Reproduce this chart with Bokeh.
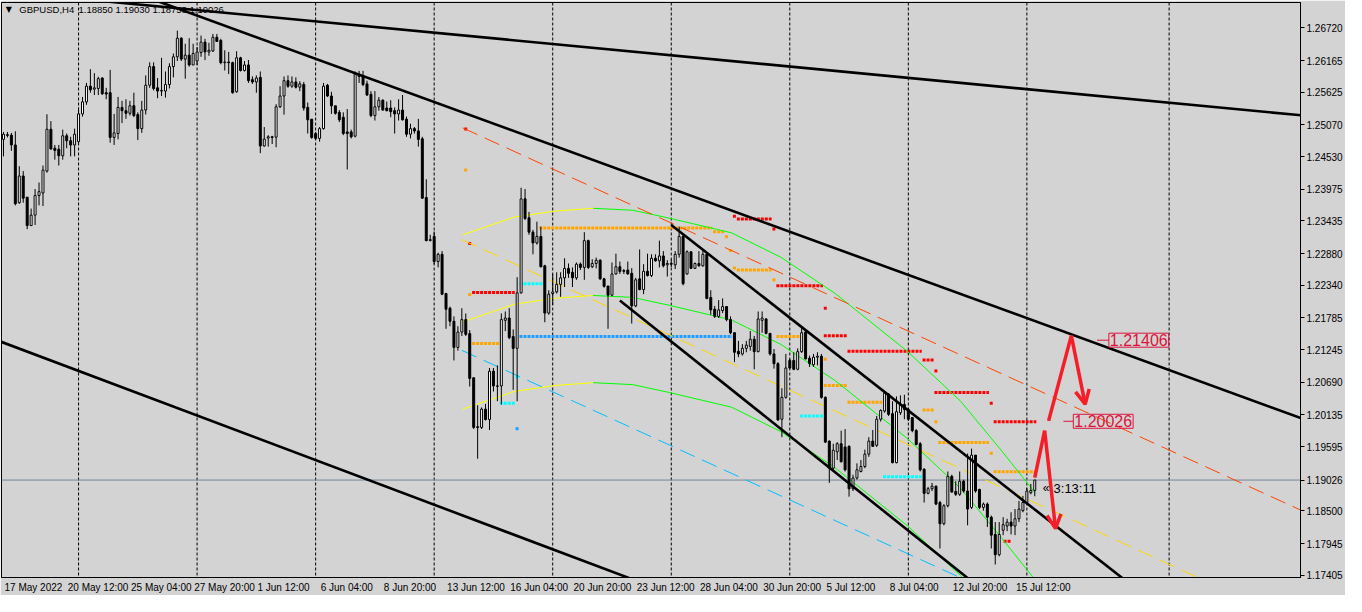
import numpy as np
from bokeh.plotting import figure
from bokeh.models import (Range1d, FixedTicker, PrintfTickFormatter, Span, Label,
                          Arrow, OpenHead, ColumnDataSource)
from bokeh.embed import file_html
from bokeh.resources import INLINE

# ---------------- data (GBPUSD H4, bar index 0 = 17 May 2022 20:00) ----------------
opens = [1.24823, 1.24889, 1.24895, 1.24728, 1.23745, 1.24200, 1.23839, 1.23356, 1.23534, 1.23867,
 1.23911, 1.24284, 1.24995, 1.24672, 1.24656, 1.24545, 1.24884, 1.24800, 1.24728, 1.24784,
 1.25256, 1.25461, 1.25728, 1.25678, 1.25689, 1.25867, 1.25617, 1.25617, 1.24856, 1.24923,
 1.25367, 1.25311, 1.25267, 1.25395, 1.25245, 1.25006, 1.25323, 1.25745, 1.26061, 1.25700,
 1.25645, 1.25645, 1.25756, 1.26061, 1.26228, 1.26545, 1.26189, 1.26256, 1.26089, 1.26156,
 1.26300, 1.26478, 1.26311, 1.26328, 1.26561, 1.26506, 1.26128, 1.26139, 1.26128, 1.25634,
 1.26211, 1.25995, 1.26089, 1.25839, 1.25800, 1.25878, 1.24711, 1.24844, 1.24867, 1.24861,
 1.25378, 1.25561, 1.25822, 1.25728, 1.25800, 1.25711, 1.25756, 1.25367, 1.25167, 1.24922,
 1.24839, 1.25006, 1.25744, 1.25561, 1.25394, 1.25283, 1.25200, 1.24950, 1.24950, 1.24878,
 1.25894, 1.25894, 1.25767, 1.25589, 1.25228, 1.25378, 1.25489, 1.25356, 1.25356, 1.25311,
 1.25256, 1.25322, 1.25167, 1.24911, 1.25006, 1.24967, 1.24833, 1.23833, 1.23100, 1.23172,
 1.22744, 1.22867, 1.22200, 1.21950, 1.21728, 1.21283, 1.21544, 1.21756, 1.21517, 1.20767,
 1.19933, 1.19922, 1.20233, 1.20056, 1.20878, 1.20628, 1.20628, 1.21744, 1.21783, 1.21467,
 1.21267, 1.22211, 1.23811, 1.23489, 1.23244, 1.23061, 1.23172, 1.22672, 1.21867, 1.22200,
 1.22228, 1.22356, 1.22467, 1.22628, 1.22561, 1.22467, 1.22700, 1.22644, 1.23100, 1.22656,
 1.22711, 1.22767, 1.22450, 1.22328, 1.22172, 1.22533, 1.22656, 1.22589, 1.22600, 1.22544,
 1.21989, 1.22450, 1.22267, 1.22578, 1.22506, 1.22800, 1.22756, 1.22839, 1.22689, 1.22711,
 1.22689, 1.22867, 1.23172, 1.22533, 1.22911, 1.22628, 1.22711, 1.22672, 1.22867, 1.22133,
 1.21933, 1.21811, 1.21911, 1.21978, 1.21756, 1.21533, 1.21217, 1.21172, 1.21267, 1.21300,
 1.21422, 1.21211, 1.21744, 1.21767, 1.21522, 1.21172, 1.21006, 1.20061, 1.20433, 1.21061,
 1.21061, 1.20911, 1.21211, 1.21544, 1.21100, 1.20989, 1.21117, 1.21133, 1.20433, 1.19689,
 1.19228, 1.19506, 1.19644, 1.19589, 1.19600, 1.18878, 1.19061, 1.19172, 1.19256, 1.19467,
 1.19689, 1.19617, 1.20061, 1.20200, 1.20489, 1.20156, 1.19322, 1.20172, 1.20311, 1.20228,
 1.20089, 1.19867, 1.19644, 1.19211, 1.18800, 1.18878, 1.18922, 1.18644, 1.18283, 1.18589,
 1.19089, 1.18833, 1.18783, 1.19006, 1.18839, 1.18561, 1.19450, 1.18867, 1.18561, 1.18617,
 1.18394, 1.18100, 1.17756, 1.18172, 1.18244, 1.18311, 1.18244, 1.18367, 1.18506, 1.18644,
 1.18811, 1.18850]

highs = [1.24950, 1.24950, 1.24934, 1.24961, 1.24367, 1.24284, 1.23839, 1.23645, 1.23978, 1.24089,
 1.24378, 1.25250, 1.25134, 1.24728, 1.24728, 1.24989, 1.24923, 1.24867, 1.25006, 1.25367,
 1.25545, 1.25784, 1.26017, 1.25950, 1.25889, 1.25878, 1.25700, 1.26006, 1.25256, 1.25545,
 1.25478, 1.25506, 1.25478, 1.25617, 1.25284, 1.25478, 1.25911, 1.26134, 1.26134, 1.25867,
 1.26211, 1.25978, 1.26117, 1.26284, 1.26673, 1.26561, 1.26450, 1.26545, 1.26450, 1.26395,
 1.26589, 1.26534, 1.26467, 1.26617, 1.26617, 1.26534, 1.26339, 1.26311, 1.26145, 1.26323,
 1.26228, 1.26156, 1.26173, 1.25895, 1.25911, 1.25978, 1.25033, 1.24894, 1.24883, 1.25422,
 1.25728, 1.25894, 1.25911, 1.25894, 1.25878, 1.25811, 1.25800, 1.25450, 1.25167, 1.24950,
 1.25033, 1.25783, 1.25767, 1.25633, 1.25394, 1.25322, 1.25283, 1.25339, 1.24989, 1.25978,
 1.25989, 1.25989, 1.25822, 1.25644, 1.25644, 1.25544, 1.25506, 1.25467, 1.25489, 1.25367,
 1.25506, 1.25578, 1.25211, 1.25089, 1.25033, 1.25172, 1.24867, 1.24144, 1.23200, 1.23256,
 1.22894, 1.22922, 1.22211, 1.21978, 1.21811, 1.21644, 1.21950, 1.21861, 1.21578, 1.20767,
 1.20300, 1.20261, 1.20322, 1.20933, 1.20933, 1.20978, 1.21861, 1.21894, 1.21950, 1.21589,
 1.22478, 1.24000, 1.23978, 1.23589, 1.23283, 1.23422, 1.23339, 1.22689, 1.22256, 1.22533,
 1.22561, 1.22561, 1.22800, 1.22711, 1.22644, 1.22728, 1.22728, 1.23244, 1.23117, 1.22783,
 1.22811, 1.22783, 1.22467, 1.22328, 1.22728, 1.22878, 1.22744, 1.22617, 1.22744, 1.22633,
 1.22467, 1.22950, 1.22700, 1.22878, 1.22867, 1.22867, 1.23100, 1.22922, 1.22767, 1.22780,
 1.22922, 1.23339, 1.23211, 1.22933, 1.22911, 1.22728, 1.22922, 1.22922, 1.22867, 1.22256,
 1.21989, 1.22089, 1.22117, 1.21978, 1.21811, 1.21533, 1.21394, 1.21339, 1.21394, 1.21561,
 1.21478, 1.21894, 1.21894, 1.21783, 1.21522, 1.21256, 1.21033, 1.20589, 1.21172, 1.21089,
 1.21200, 1.21267, 1.21644, 1.21589, 1.21144, 1.21172, 1.21200, 1.21172, 1.20450, 1.19700,
 1.19644, 1.19672, 1.19867, 1.19894, 1.19617, 1.19117, 1.19311, 1.19367, 1.19544, 1.19756,
 1.19878, 1.20117, 1.20228, 1.20544, 1.20506, 1.20367, 1.20450, 1.20467, 1.20478, 1.20256,
 1.20100, 1.19894, 1.19672, 1.19228, 1.18911, 1.18978, 1.18933, 1.18672, 1.18617, 1.19172,
 1.19117, 1.19006, 1.19172, 1.19033, 1.19478, 1.19561, 1.19450, 1.18878, 1.18644, 1.18644,
 1.18422, 1.18311, 1.18311, 1.18394, 1.18367, 1.18478, 1.18533, 1.18672, 1.18756, 1.18894,
 1.18961, 1.19030]

lows = [1.24534, 1.24856, 1.24628, 1.23700, 1.23728, 1.23745, 1.23295, 1.23356, 1.23367, 1.23700,
 1.23689, 1.24256, 1.24645, 1.24478, 1.24378, 1.24478, 1.24672, 1.24534, 1.24534, 1.24756,
 1.25211, 1.25411, 1.25617, 1.25578, 1.25578, 1.25578, 1.25506, 1.24767, 1.24728, 1.24823,
 1.25100, 1.25173, 1.25228, 1.25200, 1.24811, 1.24934, 1.25245, 1.25700, 1.25656, 1.25523,
 1.25561, 1.25534, 1.25689, 1.25878, 1.26156, 1.26156, 1.25856, 1.26061, 1.26089, 1.26089,
 1.26228, 1.26173, 1.26245, 1.26311, 1.26489, 1.26100, 1.25995, 1.25934, 1.25600, 1.25617,
 1.25978, 1.25978, 1.25784, 1.25767, 1.25617, 1.24589, 1.24700, 1.24700, 1.24744, 1.24689,
 1.25356, 1.25244, 1.25700, 1.25700, 1.25689, 1.25644, 1.25311, 1.24922, 1.24833, 1.24811,
 1.24783, 1.24989, 1.25544, 1.25256, 1.25244, 1.25117, 1.24894, 1.24311, 1.24839, 1.24856,
 1.25783, 1.25728, 1.25561, 1.25200, 1.25144, 1.25311, 1.25311, 1.25300, 1.25200, 1.24922,
 1.25144, 1.25144, 1.24867, 1.24839, 1.24922, 1.24700, 1.23811, 1.23089, 1.23089, 1.22700,
 1.22644, 1.22172, 1.21600, 1.21644, 1.21061, 1.21228, 1.21478, 1.21478, 1.20617, 1.19894,
 1.19389, 1.19894, 1.20039, 1.19878, 1.20533, 1.20367, 1.20311, 1.21561, 1.21422, 1.20561,
 1.20367, 1.22200, 1.23450, 1.23200, 1.22867, 1.23033, 1.22644, 1.21711, 1.21839, 1.22006,
 1.22200, 1.22144, 1.22311, 1.22467, 1.22311, 1.22433, 1.22600, 1.22433, 1.22617, 1.22633,
 1.22628, 1.22433, 1.22300, 1.21600, 1.22156, 1.22522, 1.22533, 1.22533, 1.22522, 1.21689,
 1.21967, 1.22256, 1.22189, 1.22489, 1.22478, 1.22744, 1.22644, 1.22644, 1.22489, 1.22650,
 1.22617, 1.22811, 1.22339, 1.22522, 1.22617, 1.22617, 1.22656, 1.22656, 1.22100, 1.21839,
 1.21783, 1.21783, 1.21867, 1.21728, 1.21506, 1.21033, 1.21117, 1.21144, 1.21200, 1.21228,
 1.20911, 1.21200, 1.21533, 1.21506, 1.21144, 1.20922, 1.20033, 1.19756, 1.20411, 1.20922,
 1.20894, 1.20894, 1.21189, 1.21078, 1.20950, 1.20950, 1.20978, 1.20411, 1.19656, 1.18978,
 1.19200, 1.19367, 1.19322, 1.19172, 1.18744, 1.18839, 1.19033, 1.19156, 1.19228, 1.19422,
 1.19589, 1.19589, 1.20022, 1.20172, 1.20117, 1.19311, 1.19311, 1.20133, 1.20061, 1.20033,
 1.19839, 1.19617, 1.19172, 1.18644, 1.18783, 1.18839, 1.18600, 1.17861, 1.18256, 1.18561,
 1.18811, 1.18756, 1.18756, 1.18811, 1.18256, 1.18533, 1.18811, 1.18533, 1.18506, 1.18228,
 1.17861, 1.17589, 1.17728, 1.18089, 1.18156, 1.18100, 1.18089, 1.18311, 1.18478, 1.18617,
 1.18783, 1.18750]

closes = [1.24911, 1.24906, 1.24728, 1.23728, 1.24200, 1.23823, 1.23356, 1.23534, 1.23867, 1.23934,
 1.24300, 1.24995, 1.24661, 1.24634, 1.24545, 1.24884, 1.24800, 1.24728, 1.24911, 1.25256,
 1.25461, 1.25728, 1.25667, 1.25700, 1.25856, 1.25600, 1.25595, 1.24856, 1.24934, 1.25367,
 1.25311, 1.25267, 1.25395, 1.25228, 1.25006, 1.25323, 1.25745, 1.26061, 1.25689, 1.25645,
 1.25656, 1.25756, 1.26061, 1.26228, 1.26545, 1.26189, 1.26256, 1.26089, 1.26284, 1.26311,
 1.26478, 1.26311, 1.26339, 1.26561, 1.26489, 1.26128, 1.26139, 1.26128, 1.25617, 1.26211,
 1.25995, 1.26089, 1.25823, 1.25800, 1.25867, 1.24711, 1.24828, 1.24867, 1.24856, 1.25378,
 1.25561, 1.25822, 1.25728, 1.25800, 1.25711, 1.25767, 1.25356, 1.25156, 1.24856, 1.24839,
 1.25006, 1.25728, 1.25561, 1.25394, 1.25267, 1.25156, 1.24922, 1.24922, 1.24867, 1.25933,
 1.25933, 1.25756, 1.25578, 1.25228, 1.25378, 1.25489, 1.25322, 1.25311, 1.25294, 1.25256,
 1.25322, 1.25156, 1.24911, 1.25006, 1.24967, 1.24822, 1.23822, 1.23100, 1.23117, 1.22744,
 1.22867, 1.22189, 1.21933, 1.21728, 1.21283, 1.21544, 1.21756, 1.21506, 1.20756, 1.19922,
 1.19922, 1.20233, 1.20056, 1.20878, 1.20628, 1.20622, 1.21756, 1.21783, 1.21450, 1.21267,
 1.22211, 1.23811, 1.23478, 1.23244, 1.23061, 1.23172, 1.22656, 1.21867, 1.22189, 1.22228,
 1.22356, 1.22467, 1.22628, 1.22544, 1.22467, 1.22700, 1.22644, 1.23100, 1.22644, 1.22711,
 1.22767, 1.22450, 1.22322, 1.22172, 1.22533, 1.22656, 1.22578, 1.22578, 1.22533, 1.21989,
 1.22433, 1.22267, 1.22578, 1.22506, 1.22800, 1.22756, 1.22839, 1.22672, 1.22711, 1.22700,
 1.22867, 1.23172, 1.22367, 1.22911, 1.22628, 1.22711, 1.22672, 1.22867, 1.22117, 1.21922,
 1.21811, 1.21922, 1.21978, 1.21756, 1.21533, 1.21200, 1.21172, 1.21267, 1.21322, 1.21422,
 1.21211, 1.21767, 1.21783, 1.21522, 1.21172, 1.21006, 1.20050, 1.20433, 1.20933, 1.20933,
 1.20911, 1.21211, 1.21533, 1.21089, 1.21006, 1.21117, 1.21133, 1.20433, 1.19672, 1.19228,
 1.19533, 1.19644, 1.19339, 1.19200, 1.18878, 1.19061, 1.19200, 1.19256, 1.19467, 1.19689,
 1.19600, 1.20061, 1.20211, 1.20506, 1.20144, 1.19322, 1.20189, 1.20311, 1.20228, 1.20061,
 1.19867, 1.19633, 1.19200, 1.18800, 1.18878, 1.18922, 1.18617, 1.18283, 1.18589, 1.19089,
 1.18822, 1.18783, 1.19006, 1.18839, 1.18533, 1.19450, 1.18839, 1.18561, 1.18617, 1.18394,
 1.18089, 1.17756, 1.18100, 1.18267, 1.18311, 1.18244, 1.18367, 1.18533, 1.18644, 1.18839,
 1.18850, 1.19026]

# axis ticks
x_tick_bars = [0, 16, 32, 48, 64, 80, 96, 112, 128, 144, 160, 176, 192, 208, 224, 240, 256]
x_tick_labels = ["17 May 2022", "20 May 12:00", "25 May 04:00", "27 May 20:00", "1 Jun 12:00",
                 "6 Jun 04:00", "8 Jun 20:00", "13 Jun 12:00", "16 Jun 04:00", "20 Jun 20:00",
                 "23 Jun 12:00", "28 Jun 04:00", "30 Jun 20:00", "5 Jul 12:00", "8 Jul 04:00",
                 "12 Jul 20:00", "15 Jul 12:00"]
y_tick_values = [1.26720, 1.26165, 1.25625, 1.25070, 1.24530, 1.23975, 1.23435, 1.22880, 1.22340,
                 1.21785, 1.21245, 1.20690, 1.20135, 1.19595, 1.18500, 1.17945, 1.17405]
grid_bars = [19, 49, 79, 109, 139, 169, 199, 229, 259, 295]
bid_price = 1.19026

# black trend lines (bar, price)
trend_x0 = [20.0, 35.0, -5.0, 169.0, 156.0]
trend_y0 = [1.27209, 1.27273, 1.21490, 1.23367, 1.22083]
trend_x1 = [335.0, 335.0, 165.0, 290.0, 250.0]
trend_y1 = [1.25190, 1.19917, 1.17190, 1.16999, 1.17037]

# dashed regression-style lines
dash_x0 = [116.25, 116.0, 116.0]
dash_y0 = [1.25017, 1.23117, 1.21233]
dash_x1 = [328.25, 328.25, 328.25]
dash_y1 = [1.18517, 1.16567, 1.14725]
dash_colors = ["#FF4500", "#FFD700", "#00BFFF"]

# parabolic channel
curve_bars = [116.25, 129.25, 139.25, 149.25, 159.25, 168.5, 184.25, 196.75, 210.5, 228.75, 242.25, 252.5, 261.0]
curve_upper = [1.23200, 1.23500, 1.23600, 1.23650, 1.23617, 1.23483, 1.23233, 1.22817, 1.22200, 1.21217, 1.20367, 1.19533, 1.18817]
curve_middle = [1.21717, 1.22017, 1.22117, 1.22167, 1.22134, 1.22000, 1.21750, 1.21334, 1.20717, 1.19734, 1.18884, 1.18050, 1.17334]
curve_lower = [1.20233, 1.20533, 1.20633, 1.20683, 1.20650, 1.20516, 1.20266, 1.19850, 1.19233, 1.18250, 1.17400, 1.16566, 1.15850]
curve_split_bar = 149.25

# dotted level rows
lvl_start = [136, 180, 183, 184, 185, 186, 195, 185, 186, 195, 196, 208, 196, 208, 214, 208, 233, 236,
             208, 236, 214, 250, 233, 202, 236, 251, 237, 250, 251, 223, 253.5, 117, 117, 118, 119, 118,
             119, 131, 131, 130, 126, 130]
lvl_end = [179, 182, 183, 184, 185, 194, 195, 185, 194, 195, 207, 208, 201, 213, 232, 208, 235, 236,
           213, 249, 222, 250, 235, 207, 236, 261, 249, 250, 261, 232, 254.5, 117, 117, 118, 129, 118,
           125, 136, 184, 130, 129, 130]
lvl_price = [1.23317, 1.23250, 1.23167, 1.22933, 1.22633, 1.22600, 1.22433, 1.23517, 1.23467, 1.23300,
             1.22333, 1.21950, 1.21467, 1.21483, 1.21217, 1.21083, 1.21067, 1.20883, 1.20633, 1.20517,
             1.20350, 1.20333, 1.20217, 1.20117, 1.20017, 1.20017, 1.19667, 1.19483, 1.19167, 1.19083,
             1.17983, 1.25000, 1.24300, 1.23050, 1.22217, 1.22183, 1.21350, 1.22367, 1.21467, 1.20783,
             1.20333, 1.19900]
lvl_color = ["#FFA500", "#FFA500", "#FFA500", "#FFA500", "#FFA500", "#FFA500", "#FFA500", "#FF0000",
             "#FF0000", "#FF0000", "#FF0000", "#FF0000", "#FFA500", "#FF0000", "#FF0000", "#FFA500",
             "#FF0000", "#FF0000", "#FFA500", "#FF0000", "#FFA500", "#FF0000", "#FFA500", "#00FFFF",
             "#FFA500", "#FF0000", "#FFA500", "#FFA500", "#FFA500", "#00FFFF", "#FF0000", "#FF0000",
             "#FFA500", "#FF0000", "#FF0000", "#FFA500", "#FFA500", "#00FFFF", "#1E9FFF", "#00FFFF",
             "#00FFFF", "#1E9FFF"]

# red forecast zigzags
zig1_x = [261.0, 263.5, 266.25]
zig1_y = [1.19067, 1.19867, 1.18200]
zig2_x = [264.5, 270.25, 273.75]
zig2_y = [1.20033, 1.21483, 1.20317]
target_prices = [1.21406, 1.20026]
target_label_bar = [279.75, 270.75]
target_line_bar = [276.75, 268.25]

# ---------------- figure ----------------
BG = "#D3D3D3"
FONT = "Liberation Sans"
X0, X1 = -0.5, 328.25
W, H = 1345, 595
p = figure(width=W, height=H, x_range=Range1d(X0, X1), y_range=Range1d(1.17368, 1.27152),
           output_backend="svg", toolbar_location=None, y_axis_location="right",
           min_border_left=1, min_border_right=2, min_border_top=2, min_border_bottom=2,
           background_fill_color=BG, border_fill_color=BG)
p.xgrid.visible = False
p.ygrid.visible = False
p.outline_line_color = "black"
p.outline_line_width = 1

# Bokeh centres axis labels on ticks; MT4 starts them at the bar, so shift each
# tick by half of its label width (Arial/Liberation advance widths, 10px font).
ADV = {" ": 0.278, ":": 0.278, "M": 0.833, "a": 0.556, "y": 0.5, "J": 0.5, "u": 0.556,
       "n": 0.556, "l": 0.222}
def text_px(s, size=10.0):
    return size * sum(ADV.get(ch, 0.556) for ch in s)
px_per_bar = (W - 1 - 48) / (X1 - X0)
label_pos = [b + (text_px(s) / 2 + 1) / px_per_bar for b, s in zip(x_tick_bars, x_tick_labels)]

xa = p.xaxis[0]
xa.ticker = FixedTicker(ticks=label_pos)
xa.major_label_overrides = {pos: s for pos, s in zip(label_pos, x_tick_labels)}
xa.major_label_text_font = FONT
xa.major_label_text_font_size = "10px"
xa.major_label_text_color = "black"
xa.major_tick_in = 0
xa.major_tick_out = 0
xa.major_tick_line_color = None
xa.minor_tick_line_color = None
xa.axis_line_color = "black"
xa.major_label_standoff = 4

ya = p.yaxis[0]
ya.ticker = FixedTicker(ticks=y_tick_values + [bid_price])
ya.formatter = PrintfTickFormatter(format="%.5f")
ya.major_label_text_font = FONT
ya.major_label_text_font_size = "10px"
ya.major_label_text_color = "black"
ya.major_tick_in = 0
ya.major_tick_out = 4
ya.minor_tick_line_color = None
ya.axis_line_color = "black"
ya.major_label_standoff = 2

# vertical dashed grid
for gb in grid_bars:
    p.add_layout(Span(location=gb, dimension="height", line_color="black", line_width=1,
                      line_dash="3 2", level="underlay"))
# bid line
p.add_layout(Span(location=bid_price, dimension="width", line_color="#778899", line_width=1,
                  level="underlay"))

# dotted level rows
lv = ColumnDataSource(dict(x0=np.array(lvl_start, float) - 0.4, x1=np.array(lvl_end, float) + 0.4,
                           y=lvl_price, color=lvl_color))
p.segment(x0="x0", y0="y", x1="x1", y1="y", line_color="color", line_width=3,
          line_dash="3 1", line_cap="butt", source=lv)

# parabolic channel curves
cb = np.array(curve_bars)
first = cb <= curve_split_bar
second = cb >= curve_split_bar
for arr in (curve_upper, curve_middle, curve_lower):
    arr = np.array(arr)
    p.line(cb[first], arr[first], line_color="#FFFF00", line_width=1)
    p.line(cb[second], arr[second], line_color="#00FF00", line_width=1)

# dashed lines
for x0, y0, x1, y1, col in zip(dash_x0, dash_y0, dash_x1, dash_y1, dash_colors):
    p.line([x0, x1], [y0, y1], line_color=col, line_width=1, line_dash="16 8")

# candles
o = np.array(opens); h = np.array(highs); l = np.array(lows); c = np.array(closes)
bars = np.arange(len(c))
src = ColumnDataSource(dict(x=bars, h=h, l=l, top=np.maximum(o, c), bottom=np.minimum(o, c),
                            fill=np.where(c >= o, "white", "black")))
p.segment(x0="x", y0="l", x1="x", y1="h", line_color="black", line_width=1, source=src)
p.vbar(x="x", width=0.5, top="top", bottom="bottom", fill_color="fill", line_color="black",
       line_width=1, source=src)

# black trend lines
tl = ColumnDataSource(dict(x0=trend_x0, y0=trend_y0, x1=trend_x1, y1=trend_y1))
p.segment(x0="x0", y0="y0", x1="x1", y1="y1", line_color="black", line_width=2.6, source=tl)

# red zigzags with arrow heads
RED = "#F51E28"
for zx, zy in ((zig1_x, zig1_y), (zig2_x, zig2_y)):
    p.line(zx[:2], zy[:2], line_color=RED, line_width=3.5)
    p.add_layout(Arrow(x_start=zx[1], y_start=zy[1], x_end=zx[2], y_end=zy[2],
                       line_color=RED, line_width=3.5,
                       end=OpenHead(size=14, line_color=RED, line_width=3.5)))

# target labels
CRIM = "#DC143C"
p.segment(x0=target_line_bar, y0=target_prices, x1=target_label_bar, y1=target_prices,
          line_color=CRIM, line_width=1)
for xb, pr in zip(target_label_bar, target_prices):
    p.add_layout(Label(x=xb, y=pr, text=f"{pr:.5f}", text_font=FONT, text_font_size="16px",
                       text_color=CRIM, text_baseline="middle", border_line_color=CRIM,
                       border_line_width=1, padding=1))

# timer
p.add_layout(Label(x=263.0, y=1.18883, text="\u00ab", text_font=FONT, text_font_size="12px",
                   text_color="black", text_baseline="middle"))
p.add_layout(Label(x=265.75, y=1.18883, text="3:13:11", text_font=FONT, text_font_size="13px",
                   text_color="black", text_baseline="middle"))

# title
p.add_layout(Label(x=0.6, y=1.27033, text="\u25bc", text_font="DejaVu Sans", text_font_size="8px",
                   text_color="black", text_baseline="middle"))
p.add_layout(Label(x=4.0, y=1.27033, text="GBPUSD,H4", text_font=FONT, text_font_size="9.5px",
                   text_color="black", text_baseline="middle"))
p.add_layout(Label(x=19.0, y=1.27033, text="1.18850 1.19030 1.18750 1.19026", text_font=FONT,
                   text_font_size="9.5px", text_color="black", text_baseline="middle"))

open("out.html", "w").write(file_html(p, INLINE))
